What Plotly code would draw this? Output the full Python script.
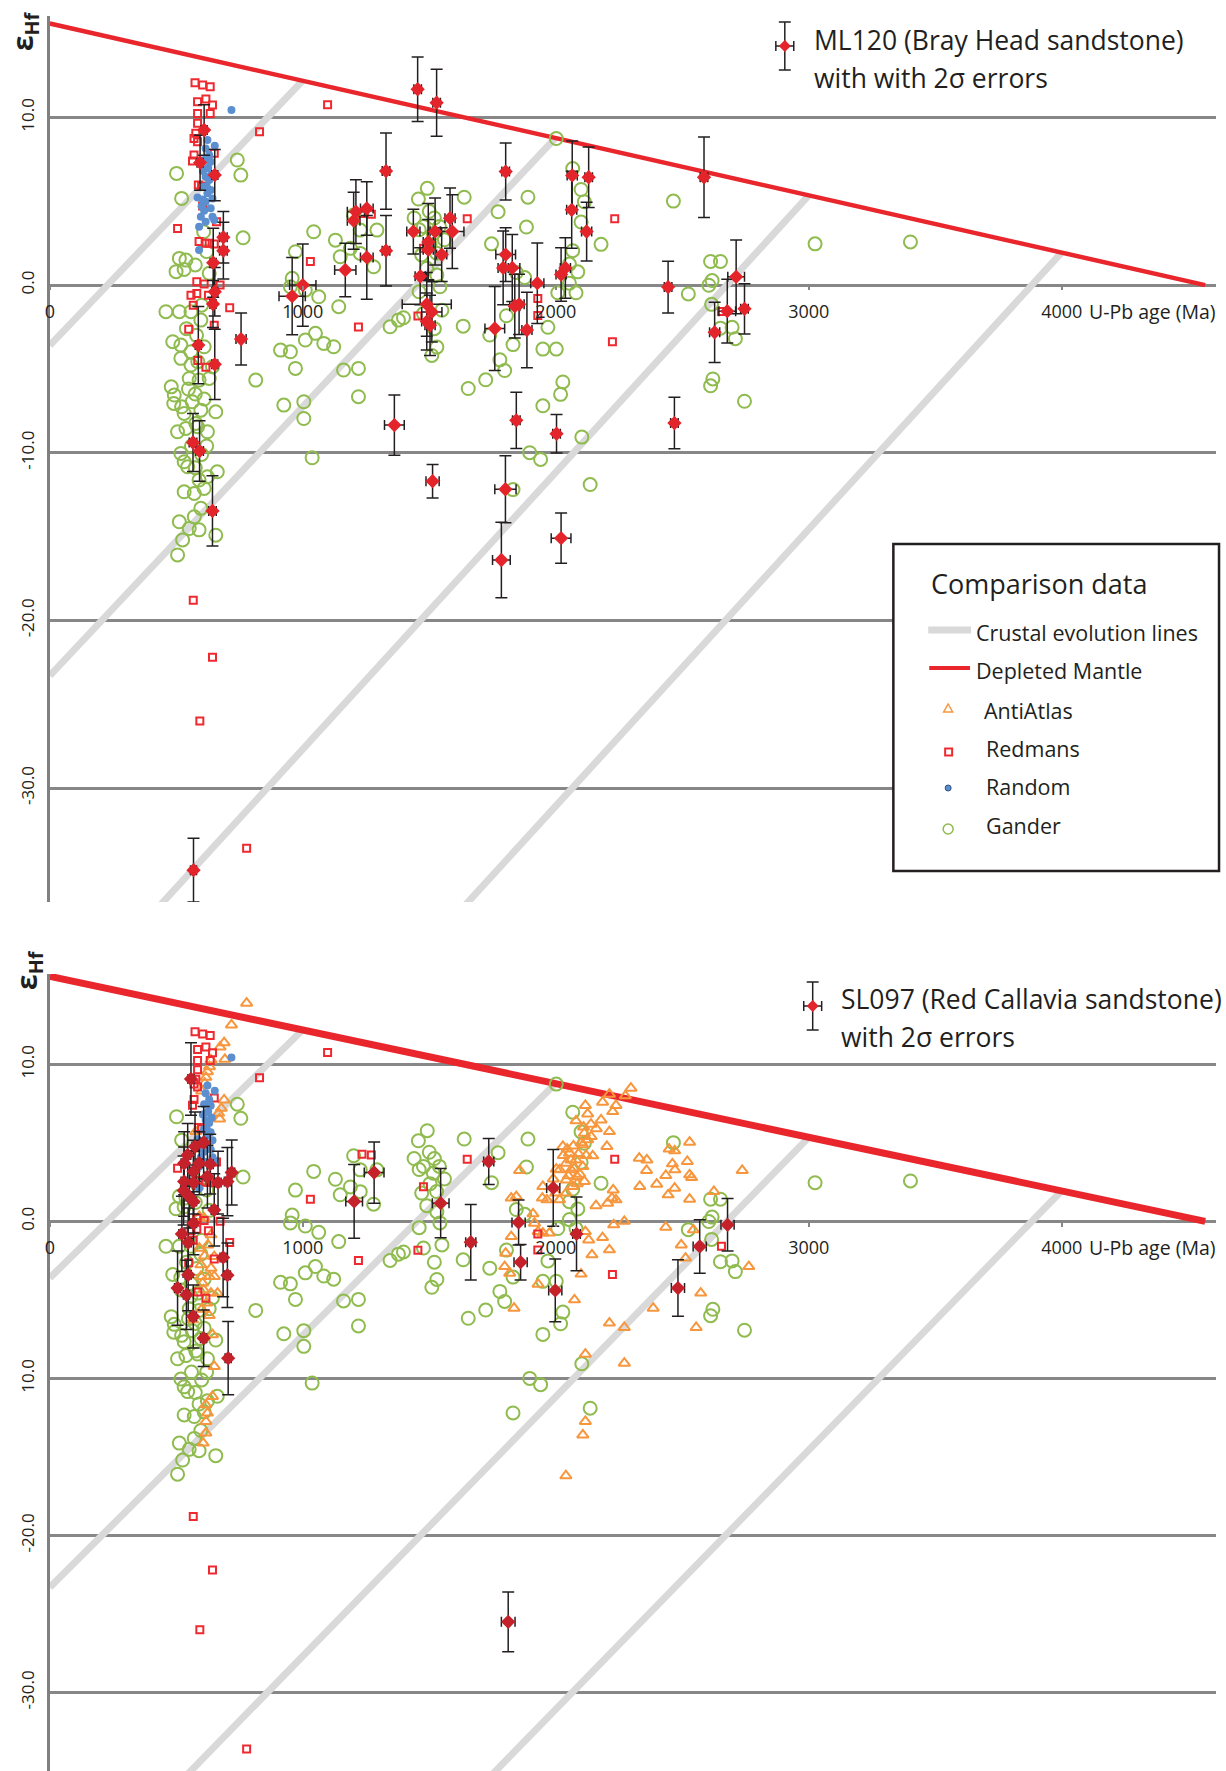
import plotly.graph_objects as go

W, H = 1226, 1771

# ---------------- data ----------------
dm_age = [0, 4567]
dm_eps = [15.6, 0.0]

ce_age_start = [1000, 2000, 3000, 4000]
ce_eps_start = [12.2, 8.8, 5.35, 1.95]
ce_eps_zero = [-3.6, -23.3, -44.2, -64.1]

gander = [
    (501, 6.66), (741, 7.46), (755, 6.56), (521, 5.17), (764, 2.82), (512, 1.59), (538, 1.49), (499, 0.8),
    (531, 0.93), (630, 0.7), (608, 3.18), (620, 2.0), (575, 1.2),
    (459, -1.59), (512, -1.59), (558, -1.59), (597, -2.09), (486, -3.38), (518, -3.58), (518, -4.37),
    (558, -3.98), (558, -4.77), (585, -4.57), (551, -5.57), (590, -5.67), (630, -5.57), (643, -4.87),
    (610, -3.68), (480, -6.07), (492, -6.56), (490, -7.06), (521, -7.26), (531, -7.66), (563, -6.96),
    (597, -7.46), (656, -7.56), (505, -8.75), (538, -8.55), (584, -8.45), (623, -8.75), (577, -8.25),
    (548, -6.2), (575, -6.5), (610, -6.8), (560, -9.6), (600, -10.1), (620, -9.6), (518, -10.04),
    (531, -10.54), (545, -10.84), (575, -10.9), (590, -11.63), (623, -11.43), (662, -11.14), (531, -12.33),
    (571, -12.43), (610, -12.13), (597, -13.32), (571, -13.82), (512, -14.12), (551, -14.52), (590, -14.6),
    (656, -14.92), (525, -15.2), (505, -16.1), (580, -3.0), (540, -2.6), (600, -1.2),
    (814, -5.67), (971, 1.99), (958, 0.4), (951, -0.1), (1010, -0.3), (1063, -0.7), (1050, -2.88),
    (1010, -3.28), (1083, -3.48), (1122, -3.68), (912, -3.88), (951, -3.98), (971, -4.97), (925, -7.16),
    (1004, -6.96), (1004, -7.96), (1037, -10.3), (1043, 3.18), (1129, 2.68), (1142, -1.29), (1148, 1.69),
    (1188, 2.19), (1220, -4.97), (1161, -5.07), (1220, -6.66), (1293, 3.28), (1280, 1.09), (1345, -2.49),
    (1378, -2.09), (1201, 4.18), (1227, 3.28), (1227, 1.89),
    (1492, 5.77), (1457, 5.13), (1638, 5.24), (1890, 5.24), (1772, 4.37), (1884, 3.46), (1746, 2.46),
    (1477, 3.5), (1503, 2.4), (1529, 1.9), (1542, -0.1), (1490, 1.0), (1516, 3.07), (1510, -4.2),
    (1477, -1.7), (1398, -1.95), (1440, 4.0), (1460, 3.3), (1500, 4.4), (1520, 4.0), (1540, 3.5),
    (1560, 2.7), (1470, 1.8), (1530, 0.6), (1460, -0.4), (1520, -2.6), (1530, -3.7), (1550, -1.5),
    (1844, 0.75), (1877, 0.45), (1634, -2.45), (1739, -2.98), (1805, -1.83), (1831, -3.55), (1969, -2.52),
    (1949, -3.82), (2002, -3.82), (1779, -4.46), (1798, -5.1), (1723, -5.65), (1654, -6.17), (2028, -5.78),
    (2019, -6.52), (1949, -7.2), (2103, -9.07), (1897, -10.0), (1940, -10.4), (2136, -11.9), (1831, -12.2),
    (2002, 8.74), (2067, 6.95), (2100, 5.7), (2113, 4.97), (2100, 3.76), (2179, 2.43), (2067, 2.05),
    (2054, 1.25), (2087, 0.79), (2008, -0.46), (2080, -0.46), (2054, 0.11),
    (2465, 5.01), (2524, -0.53), (2612, 1.41), (2651, 1.41), (2618, 0.27), (2605, -0.01), (2616, -1.15),
    (2697, -2.52), (2710, -3.2), (2651, -2.57), (2621, -5.6), (2612, -6.01), (2746, -6.93),
    (3025, 2.46), (3402, 2.57),
]

random_ = [
    (718, 10.44), (623, 8.65), (652, 8.31), (616, 8.15), (630, 7.76), (610, 7.46), (636, 7.36), (623, 6.96),
    (616, 6.46), (630, 6.26), (610, 5.87), (636, 5.67), (623, 5.47), (584, 5.23), (643, 5.17), (616, 4.97),
    (636, 4.58), (610, 4.43), (597, 4.08), (643, 4.08), (616, 3.78), (650, 3.88), (590, 3.48), (590, 2.09),
    (626, 7.0), (605, 6.8), (620, 5.9), (605, 5.1), (640, 6.6), (600, 4.7),
]

redmans = [
    (574, 12.07), (604, 11.93), (634, 11.83), (584, 10.94), (617, 11.1), (643, 10.74), (584, 10.24),
    (634, 10.24), (584, 9.65), (577, 9.05), (570, 8.75), (584, 8.55), (570, 7.76), (564, 7.4), (650, 7.86),
    (604, 4.71), (614, 2.49), (630, 2.49), (650, 2.45), (581, 0.2), (610, 0.06), (673, 0.0), (581, -0.5),
    (558, -0.6), (627, -0.6), (567, -1.2), (711, -1.35), (549, -2.64), (650, -2.4), (585, -4.5),
    (617, -4.9), (505, 3.38), (587, 5.97), (659, 3.78), (600, 5.9), (590, 2.6),
    (829, 9.15), (1098, 10.75), (1030, 1.4), (1220, -2.5), (1271, 4.22), (1234, 4.27), (1477, 2.2),
    (1650, 3.95), (2233, 3.95), (1929, -0.8), (1929, -1.82), (2224, -3.38), (1455, -1.84), (2655, -1.58),
    (567, -18.8), (643, -22.2), (593, -26.0), (778, -33.6),
]

antiatlas = [
    (778, 13.89), (718, 12.51), (689, 11.38), (673, 11.1), (692, 10.32), (637, 10.28), (631, 9.85),
    (623, 9.53), (617, 9.17), (612, 8.8), (600, 8.3), (689, 7.73), (678, 7.2), (667, 6.88), (671, 6.52),
    (577, 5.72), (583, 4.6), (591, 3.75), (584, 2.22), (591, 0.31), (610, 0.2), (637, -0.86), (625, -1.5),
    (591, -1.71), (612, -2.2), (650, -2.24), (597, -2.77), (637, -2.98), (597, -3.51), (630, -3.51),
    (650, -3.51), (604, -3.93), (608, -4.36), (637, -4.57), (663, -4.57), (620, -5.2), (600, -5.6),
    (630, -6.0), (564, -6.27), (643, -7.22), (650, -9.24), (643, -11.15), (617, -11.68), (623, -12.21),
    (617, -12.74), (617, -13.48), (606, -14.12),
    (2297, 8.48), (2275, 7.99), (2212, 8.1), (2185, 7.59), (2117, 7.38), (2238, 7.38), (2225, 6.99),
    (2126, 6.84), (2179, 6.46), (2080, 6.4), (2139, 6.19), (2212, 5.72), (2113, 5.61), (2126, 5.19),
    (2107, 4.87), (2202, 4.77), (2146, 4.17), (2028, 4.77), (2054, 4.34), (2080, 3.91), (2041, 3.7),
    (2107, 3.49), (2061, 3.28), (2015, 3.28), (2084, 2.86), (2113, 2.54), (2002, 3.32), (2041, 2.64),
    (2067, 2.22), (2030, 4.2), (2045, 4.6), (2070, 4.8), (2090, 4.3), (2060, 3.9), (2075, 3.4),
    (2095, 3.0), (2050, 2.9), (2085, 2.4), (2120, 4.2), (2100, 5.0), (2140, 5.4), (2160, 5.9),
    (2110, 6.0), (2000, 1.8), (1990, 2.7),
    (1857, 3.24), (1949, 2.22), (1965, 1.37), (1947, 1.48), (2015, 1.37), (2041, 1.8), (1824, 1.48),
    (1844, 1.58), (1910, 0.48), (1916, -0.12), (1930, -0.65), (1949, -0.75), (1975, -0.75), (1824, -0.97),
    (1802, -2.03), (1798, -2.88), (1818, -3.3), (1835, -5.53), (1930, -4.0), (2074, -5.0), (2100, -3.36),
    (2130, -1.18), (2143, -2.13), (2117, -0.65), (2185, -1.03), (2212, -1.81), (2229, -0.22), (2271, 0.0),
    (2159, 1.0), (2205, 1.16), (2222, 1.48), (2238, 1.37), (2227, 2.0), (2212, -6.48), (2271, -6.76),
    (2117, -8.46), (2271, -9.03), (2117, -12.74), (2107, -13.6), (2040, -16.2),
    (2330, 4.02), (2360, 3.91), (2359, 3.24), (2332, 2.22), (2399, 2.37), (2435, 2.92), (2448, 4.6),
    (2470, 4.49), (2529, 5.04), (2461, 3.66), (2471, 3.28), (2520, 3.81), (2529, 2.96), (2537, 2.79),
    (2444, 1.69), (2470, 2.11), (2529, 1.41), (2435, -0.37), (2544, -0.54), (2625, 1.9), (2496, -1.5),
    (2513, -2.34), (2737, 3.24), (2763, -2.88), (2573, -4.57), (2385, -5.53), (2555, -6.76),
]

# sample data: (age, eps, age error, eps error)
ml120 = [
    (610, 9.25, 12, 1.5), (594, 7.3, 12, 1.64), (652, 6.56, 12, 1.53), (686, 2.85, 15, 1.54),
    (686, 2.05, 15, 1.69), (646, 1.33, 12, 2.06), (652, -0.4, 12, 1.45), (645, -1.13, 12, 1.4),
    (587, -3.58, 12, 2.3), (652, -4.73, 12, 2.1), (756, -3.22, 20, 1.55), (566, -9.39, 15, 1.73),
    (592, -9.9, 15, 1.8), (643, -13.47, 15, 2.1), (568, -34.9, 12, 1.9),
    (958, -0.66, 52, 2.3), (1000, 0.0, 52, 2.45), (1168, 0.9, 42, 1.6), (1210, 4.38, 34, 1.9),
    (1201, 3.84, 25, 1.7), (1253, 4.57, 25, 1.6), (1253, 1.65, 25, 2.5), (1329, 6.8, 15, 2.27),
    (1329, 2.05, 15, 2.1), (1362, -8.35, 39, 1.8),
    (1454, 11.68, 15, 1.92), (1529, 10.88, 15, 2.0), (1437, 3.19, 26, 1.34), (1496, 2.57, 20, 2.3),
    (1496, 2.11, 20, 1.8), (1523, 3.19, 20, 2.0), (1582, 3.99, 20, 1.8), (1591, 3.19, 46, 2.2),
    (1549, 1.82, 20, 1.6), (1464, 0.52, 20, 1.7), (1490, -1.15, 97, 1.9), (1510, -1.6, 40, 1.8),
    (1490, -2.18, 20, 1.7), (1503, -2.4, 20, 1.8), (1802, 6.77, 15, 1.7), (1802, 1.82, 39, 1.6),
    (1792, 1.02, 20, 2.2), (1828, 1.02, 30, 2.0), (1927, 0.11, 26, 2.4), (1838, -1.26, 20, 1.9),
    (1855, -1.15, 20, 1.8), (1759, -2.59, 39, 2.5), (1886, -2.68, 20, 2.25), (2021, 0.63, 20, 1.6),
    (2038, 1.02, 20, 1.8), (2065, 6.54, 20, 2.05), (2130, 6.43, 15, 1.8), (2063, 4.49, 20, 2.3),
    (2122, 3.19, 20, 1.75), (2586, 6.43, 15, 2.4), (2444, -0.12, 15, 1.54), (2713, 0.49, 33, 2.2),
    (2678, -1.56, 33, 1.9), (2746, -1.42, 15, 1.5), (2628, -2.82, 20, 1.8), (1844, -8.07, 15, 1.68),
    (2003, -8.87, 15, 1.15), (2469, -8.23, 15, 1.54), (1513, -11.7, 26, 1.0), (1801, -12.18, 42, 2.0),
    (1785, -16.4, 35, 2.25), (2021, -15.1, 39, 1.5),
]

sl097 = [
    (558, 9.07, 12, 2.31), (574, 4.76, 12, 2.2), (608, 5.02, 12, 2.3), (545, 4.23, 12, 2.0),
    (531, 3.7, 12, 2.0), (591, 3.7, 12, 2.0), (634, 3.64, 12, 1.9), (568, 3.17, 12, 2.0),
    (531, 2.53, 12, 2.2), (623, 2.85, 12, 2.0), (568, 2.47, 12, 2.0), (529, 1.96, 12, 2.2),
    (551, 1.58, 12, 2.0), (568, 1.26, 12, 2.0), (665, 2.47, 12, 2.0), (702, 2.53, 12, 2.17),
    (719, 3.11, 12, 2.07), (650, 0.73, 12, 2.3), (568, -0.12, 12, 2.0), (522, -0.8, 12, 2.39),
    (547, -1.35, 12, 2.2), (685, -2.3, 12, 2.5), (547, -3.4, 12, 2.3), (702, -3.43, 12, 2.05),
    (505, -4.25, 12, 2.36), (540, -4.68, 12, 2.2), (567, -6.06, 12, 2.0), (608, -7.44, 12, 1.8),
    (705, -8.71, 12, 2.33),
    (1203, 1.27, 33, 2.35), (1282, 3.11, 39, 1.95), (1545, 1.16, 33, 2.2), (1664, -1.33, 20, 2.4),
    (1735, 3.81, 20, 1.46), (1853, -0.07, 26, 1.43), (1861, -2.6, 26, 1.13), (1990, 2.13, 26, 2.45),
    (2082, -0.8, 15, 2.35), (1998, -4.4, 26, 2.0), (2483, -4.25, 26, 1.8), (2569, -1.6, 26, 1.7),
    (2679, -0.22, 26, 1.67), (1812, -25.5, 27, 1.9),
]

x_ticks = [0, 1000, 2000, 3000, 4000]
x_ticktext = ["0", "1000", "2000", "3000", "4000"]
y_ticks = [-30, -20, -10, 0, 10]
y_ticktext_top = ["-30.0", "-20.0", "-10.0", "0.0", "10.0"]
y_ticktext_bottom = ["-30.0", "-20.0", "10.0", "0.0", "10.0"]

# ---------------- styling ----------------
FONT = "Open Sans"
TXT = "#231f20"
GRID = "#878787"
C_GANDER = "#8fbb4f"
C_RANDOM = "#5b8fd0"
C_REDM = "#ee2a30"
C_ANTI = "#f7963c"
C_CE = "#d9d9d9"
C_DM = "#e8262c"


def px(X):
    return X / W


def py(Y):
    return 1 - Y / H


def col(data, i):
    return [d[i] for d in data]


fig = go.Figure()


def add_panel(xa, ya, sample, sample_color, dm_width, show_anti):
    for t, e0, ez in zip(ce_age_start, ce_eps_start, ce_eps_zero):
        fig.add_trace(go.Scatter(x=[t, 0], y=[e0, ez], mode="lines", xaxis=xa, yaxis=ya,
                                 line=dict(color=C_CE, width=7), showlegend=False, hoverinfo="skip"))
    fig.add_trace(go.Scatter(x=dm_age, y=dm_eps, mode="lines", xaxis=xa, yaxis=ya,
                             line=dict(color=C_DM, width=dm_width), showlegend=False))
    fig.add_trace(go.Scatter(x=col(gander, 0), y=col(gander, 1), mode="markers", xaxis=xa, yaxis=ya,
                             marker=dict(symbol="circle-open", size=13, color=C_GANDER, line=dict(width=2)),
                             showlegend=False, name="Gander"))
    if show_anti:
        fig.add_trace(go.Scatter(x=col(antiatlas, 0), y=col(antiatlas, 1), mode="markers", xaxis=xa, yaxis=ya,
                                 marker=dict(symbol="triangle-up-open", size=10, color=C_ANTI, line=dict(width=2)),
                                 showlegend=False, name="AntiAtlas"))
    fig.add_trace(go.Scatter(x=col(redmans, 0), y=col(redmans, 1), mode="markers", xaxis=xa, yaxis=ya,
                             marker=dict(symbol="square-open", size=7, color=C_REDM, line=dict(width=2)),
                             showlegend=False, name="Redmans"))
    fig.add_trace(go.Scatter(x=col(random_, 0), y=col(random_, 1), mode="markers", xaxis=xa, yaxis=ya,
                             marker=dict(symbol="circle", size=8, color=C_RANDOM),
                             showlegend=False, name="Random"))
    fig.add_trace(go.Scatter(x=col(sample, 0), y=col(sample, 1), mode="markers", xaxis=xa, yaxis=ya,
                             marker=dict(symbol="diamond", size=11, color=sample_color),
                             error_x=dict(type="data", array=col(sample, 2), color=TXT, thickness=1.5, width=5),
                             error_y=dict(type="data", array=col(sample, 3), color=TXT, thickness=1.5, width=6),
                             showlegend=False))


add_panel("x", "y", ml120, "#e3242b", 4.5, False)
add_panel("x2", "y2", sl097, "#c4212b", 7, True)

xdom = [px(45), px(1216)]
xcommon = dict(range=[0, 4610], domain=xdom, anchor="free", tickmode="array", tickvals=x_ticks,
               ticktext=x_ticktext, showgrid=False, zeroline=False, showline=False, ticks="outside",
               ticklen=4, tickcolor=GRID, tickwidth=1.5, tickfont=dict(family=FONT, size=18, color=TXT),
               ticklabelstandoff=6)
ycommon = dict(tickmode="array", tickvals=y_ticks, tickangle=-90, showgrid=True, gridcolor=GRID, gridwidth=2.5,
               zeroline=False, showline=True, linecolor="#808080", linewidth=3, ticks="",
               tickfont=dict(family=FONT, size=17, color=TXT), ticklabelstandoff=6)

fig.update_layout(
    width=W, height=H, margin=dict(l=0, r=0, t=0, b=0), paper_bgcolor="white", plot_bgcolor="white",
    font=dict(family=FONT, color=TXT),
    xaxis=dict(**xcommon, position=py(285)),
    yaxis=dict(**ycommon, range=[-36.8, 16.05], domain=[py(902), py(16)], anchor="x", ticktext=y_ticktext_top),
    xaxis2=dict(**xcommon, position=py(1221.5)),
    yaxis2=dict(**ycommon, range=[-35.0, 15.75], domain=[0, py(974)], anchor="x2", ticktext=y_ticktext_bottom),
)

ann = []
shapes = []

# axis titles
for (xa, ya, X, Y) in [("x", "y", 19, 31), ("x2", "y2", 23, 970)]:
    ann.append(dict(xref="paper", yref="paper", x=px(X), y=py(Y), xanchor="center", yanchor="middle",
                    text="<b>ε<sub>Hf</sub></b>", textangle=-90, showarrow=False,
                    font=dict(family=FONT, size=28, color=TXT)))
    ann.append(dict(xref=xa, yref=ya, x=4000, y=0, xshift=25, yshift=-26, xanchor="left", yanchor="middle",
                    text="U-Pb age (Ma)", showarrow=False, font=dict(family=FONT, size=19.5, color=TXT)))


def sample_icon(cx, cy):
    line = dict(color=TXT, width=1.5)
    shapes.append(dict(type="line", xref="paper", yref="paper", x0=px(cx), x1=px(cx), y0=py(cy - 24), y1=py(cy + 24), line=line))
    for dy in (-24, 24):
        shapes.append(dict(type="line", xref="paper", yref="paper", x0=px(cx - 6), x1=px(cx + 6), y0=py(cy + dy), y1=py(cy + dy), line=line))
    shapes.append(dict(type="line", xref="paper", yref="paper", x0=px(cx - 9), x1=px(cx + 9), y0=py(cy), y1=py(cy), line=line))
    for dx in (-9, 9):
        shapes.append(dict(type="line", xref="paper", yref="paper", x0=px(cx + dx), x1=px(cx + dx), y0=py(cy - 5), y1=py(cy + 5), line=line))
    path = f"M {px(cx)},{py(cy - 6)} L {px(cx + 6)},{py(cy)} L {px(cx)},{py(cy + 6)} L {px(cx - 6)},{py(cy)} Z"
    shapes.append(dict(type="path", xref="paper", yref="paper", path=path, fillcolor="#e3242b", line=dict(width=0)))


sample_icon(783, 46)
ann.append(dict(xref="paper", yref="paper", x=px(810), y=py(40), xanchor="left", yanchor="middle", showarrow=False,
                text="ML120 (Bray Head sandstone)", font=dict(family=FONT, size=26.5, color=TXT)))
ann.append(dict(xref="paper", yref="paper", x=px(810), y=py(78), xanchor="left", yanchor="middle", showarrow=False,
                text="with with 2σ errors", font=dict(family=FONT, size=26.5, color=TXT)))

sample_icon(811, 1006)
ann.append(dict(xref="paper", yref="paper", x=px(837), y=py(999), xanchor="left", yanchor="middle", showarrow=False,
                text="SL097 (Red Callavia sandstone)", font=dict(family=FONT, size=26.5, color=TXT)))
ann.append(dict(xref="paper", yref="paper", x=px(837), y=py(1037), xanchor="left", yanchor="middle", showarrow=False,
                text="with 2σ errors", font=dict(family=FONT, size=26.5, color=TXT)))

# comparison legend box
shapes.append(dict(type="rect", xref="paper", yref="paper", x0=px(892), x1=px(1219), y0=py(544), y1=py(871),
                   line=dict(color=TXT, width=2.5), fillcolor="white", layer="above"))
ann.append(dict(xref="paper", yref="paper", x=px(928), y=py(583), xanchor="left", yanchor="middle", showarrow=False,
                text="Comparison data", font=dict(family=FONT, size=27, color=TXT)))
shapes.append(dict(type="line", xref="paper", yref="paper", x0=px(927), x1=px(970), y0=py(630), y1=py(630),
                   line=dict(color=C_CE, width=7)))
shapes.append(dict(type="line", xref="paper", yref="paper", x0=px(928), x1=px(969), y0=py(668), y1=py(668),
                   line=dict(color=C_DM, width=4)))
tri = f"M {px(947)},{py(704)} L {px(951.5)},{py(712)} L {px(942.5)},{py(712)} Z"
shapes.append(dict(type="path", xref="paper", yref="paper", path=tri, line=dict(color=C_ANTI, width=1.5)))
shapes.append(dict(type="rect", xref="paper", yref="paper", x0=px(944), x1=px(951), y0=py(748.5), y1=py(755.5),
                   line=dict(color=C_REDM, width=2)))
shapes.append(dict(type="circle", xref="paper", yref="paper", x0=px(944), x1=px(950), y0=py(785), y1=py(791),
                   fillcolor=C_RANDOM, line=dict(color="#2f4f7f", width=1)))
shapes.append(dict(type="circle", xref="paper", yref="paper", x0=px(942), x1=px(952), y0=py(824), y1=py(834),
                   line=dict(color=C_GANDER, width=1.5)))
for txt, X, Y in [("Crustal evolution lines", 973, 632), ("Depleted Mantle", 973, 671), ("AntiAtlas", 981, 710),
                  ("Redmans", 983, 748), ("Random", 983, 786), ("Gander", 983, 825)]:
    ann.append(dict(xref="paper", yref="paper", x=px(X), y=py(Y), xanchor="left", yanchor="middle", showarrow=False,
                    text=txt, font=dict(family=FONT, size=21.5, color=TXT)))

fig.update_layout(annotations=ann, shapes=shapes)
fig.write_html("out.html", config={"displayModeBar": False},
               post_script="document.body.style.margin='0';document.body.style.padding='0';")
